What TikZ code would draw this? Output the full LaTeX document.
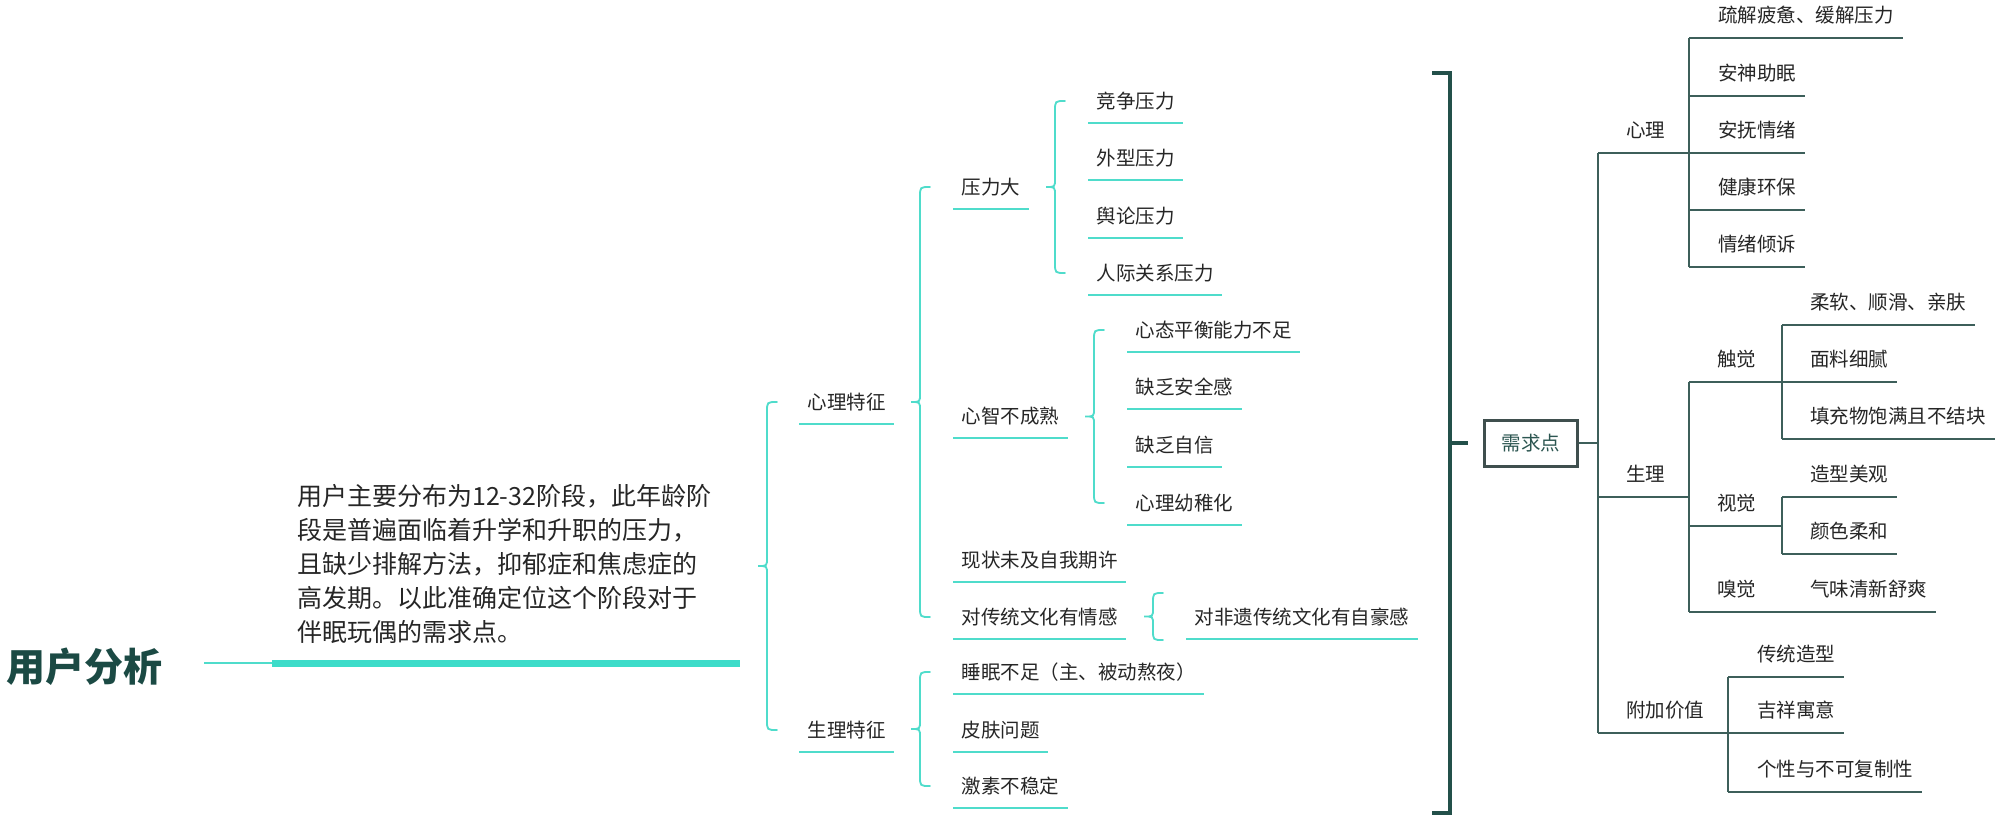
\documentclass[tikz,border=0pt]{standalone}
\usepackage{fontspec}
\setmainfont{Noto Sans CJK SC}
\usetikzlibrary{calc}
\definecolor{tl}{HTML}{4FDCCB}
\definecolor{tlk}{HTML}{3DDCC9}
\definecolor{dk}{HTML}{3D5F5A}
\definecolor{brk}{HTML}{23504A}
\definecolor{ttl}{HTML}{1B4A44}
\definecolor{txt}{HTML}{262626}
\definecolor{boxc}{HTML}{3F4F4E}
\definecolor{boxt}{HTML}{2C5651}
\tikzset{
  lt/.style={anchor=west, inner xsep=8.5pt, inner ysep=0pt, text=txt, font=\fontsize{19.5}{24}\selectfont},
  rt/.style={anchor=west, inner xsep=9pt, inner ysep=0pt, text=txt, font=\fontsize{19.5}{24}\selectfont},
  tline/.style={draw=tl, line width=1.8pt},
  brc/.style={draw=tl, line width=1.8pt, line cap=round},
  dline/.style={draw=dk, line width=2pt},
  brkl/.style={draw=brk, line width=3.5pt, line join=miter},
}
\newcommand\myul[1]{\draw[tline] ([yshift=-22pt]#1.west) -- ([yshift=-22pt]#1.east);}
\newcommand\mybrace[3]{%
  \draw[brc] let \p1=(#2), \p3=(#3), \p2=($(#2)!0.5!(#3)$) in
   (#1pt+10pt,\y1) .. controls (#1pt,\y1) .. (#1pt,\y1-10pt)
   -- (#1pt,\y2+8pt) .. controls (#1pt,\y2) .. (#1pt-9pt,\y2)
   .. controls (#1pt,\y2) .. (#1pt,\y2-8pt)
   -- (#1pt,\y3+10pt) .. controls (#1pt,\y3) .. (#1pt+10pt,\y3);}
\newcommand\uline[2]{\draw[dline] let \p1=(#2.east) in (#1pt,\y1-23pt) -- (\x1,\y1-23pt);}
\newcommand\pline[3]{\draw[dline] let \p1=(#1) in (#2pt,\y1-23pt) -- (#3pt,\y1-23pt);}
\newcommand\vbar[3]{\draw[dline] let \p1=(#2), \p2=(#3) in (#1pt,\y1-23pt) -- (#1pt,\y2-23pt);}
\begin{document}
\begin{tikzpicture}[x=1pt, y=-1pt]
\fill[white] (0,0) rectangle (2000,821);
\useasboundingbox (0,0) rectangle (2000,821);

% title and summary
\node[anchor=west, inner sep=0pt, text=ttl, font=\fontsize{39}{44}\selectfont\bfseries] (title) at (6,667) {用户分析};
\node[anchor=west, inner sep=0pt, text=txt, align=left, font=\fontsize{25}{34}\selectfont] (para) at (297,564)
 {用户主要分布为12-32阶段，此年龄阶\\段是普遍面临着升学和升职的压力，\\且缺少排解方法，抑郁症和焦虑症的\\高发期。以此准确定位这个阶段对于\\伴眠玩偶的需求点。};
\coordinate (la) at (204,663);
\coordinate (lb) at (272,663);
\coordinate (lc) at (740,663);
\draw[tline] (la) -- (lb);
\draw[draw=tlk, line width=7pt] (lb) -- (lc);

% left tree
\node[lt] (xlt) at (799,402) {心理特征};
\node[lt] (sltz) at (799,730) {生理特征};
\node[lt] (yld) at (953,187) {压力大};
\node[lt] (xzb) at (953,416) {心智不成熟};
\node[lt] (xzw) at (953,560) {现状未及自我期许};
\node[lt] (dct) at (953,617) {对传统文化有情感};
\node[lt] (smbz) at (953,672) {睡眠不足（主、被动熬夜）};
\node[lt] (pfwt) at (953,730) {皮肤问题};
\node[lt] (jsbw) at (953,786) {激素不稳定};
\node[lt] (jz) at (1088,101) {竞争压力};
\node[lt] (wx) at (1088,158) {外型压力};
\node[lt] (yl) at (1088,216) {舆论压力};
\node[lt] (rj) at (1088,273) {人际关系压力};
\node[lt] (xt) at (1127,330) {心态平衡能力不足};
\node[lt] (aq) at (1127,387) {缺乏安全感};
\node[lt] (zx) at (1127,445) {缺乏自信};
\node[lt] (yz) at (1127,503) {心理幼稚化};
\node[lt] (fy) at (1186,617) {对非遗传统文化有自豪感};
\foreach \q in {xlt,sltz,yld,xzb,xzw,dct,smbz,pfwt,jsbw,jz,wx,yl,rj,xt,aq,zx,yz,fy} {\myul{\q}}

\mybrace{767}{xlt}{sltz}
\mybrace{920}{yld}{dct}
\mybrace{920}{smbz}{jsbw}
\mybrace{1055}{jz}{rj}
\mybrace{1094}{xt}{yz}
\coordinate (fya) at ([yshift=24pt]fy.west);
\coordinate (fyb) at ([yshift=-23pt]fy.west);
\mybrace{1153}{fya}{fyb}

% bracket and need box
\coordinate (bt) at (1432,73);
\coordinate (bb) at (1432,813);
\draw[brkl] (bt) -| ($(bb)+(18,0)$) -- (bb);
\node[draw=boxc, line width=3pt, minimum width=93pt, minimum height=46pt, inner sep=0pt, text=boxt, font=\fontsize{19.5}{24}\selectfont] (need) at (1531,443) {需求点};
\draw[brkl] let \p1=(need.west) in (1450pt,\y1) -- (1468pt,\y1);

% right tree
\node[rt] (r1) at (1617,130) {心理};
\node[rt] (r2) at (1617,474) {生理};
\node[rt] (r3) at (1617,710) {附加价值};
\node[rt] (a1) at (1709,15) {疏解疲惫、缓解压力};
\node[rt] (a2) at (1709,73) {安神助眠};
\node[rt] (a3) at (1709,130) {安抚情绪};
\node[rt] (a4) at (1709,187) {健康环保};
\node[rt] (a5) at (1709,244) {情绪倾诉};
\node[rt] (b1) at (1708,359) {触觉};
\node[rt] (b2) at (1708,503) {视觉};
\node[rt] (b3) at (1708,589) {嗅觉};
\node[rt] (c1) at (1801,302) {柔软、顺滑、亲肤};
\node[rt] (c2) at (1801,359) {面料细腻};
\node[rt] (c3) at (1801,416) {填充物饱满且不结块};
\node[rt] (d1) at (1801,474) {造型美观};
\node[rt] (d2) at (1801,531) {颜色柔和};
\node[rt] (e1) at (1801,589) {气味清新舒爽};
\node[rt] (f1) at (1748,654) {传统造型};
\node[rt] (f2) at (1748,710) {吉祥寓意};
\node[rt] (f3) at (1748,769) {个性与不可复制性};

\draw[dline] let \p1=(need.east) in (\p1) -- (1598pt,\y1);
\vbar{1598}{r1}{r3}
\pline{r1}{1598}{1689}
\vbar{1689}{a1}{a5}
\foreach \q in {a1,a2,a3,a4,a5} {\uline{1689}{\q}}
\pline{r2}{1598}{1689}
\vbar{1689}{b1}{b3}
\pline{b1}{1689}{1782}
\vbar{1782}{c1}{c3}
\foreach \q in {c1,c2,c3} {\uline{1782}{\q}}
\pline{b2}{1689}{1782}
\vbar{1782}{d1}{d2}
\foreach \q in {d1,d2} {\uline{1782}{\q}}
\uline{1689}{e1}
\pline{r3}{1598}{1728}
\vbar{1728}{f1}{f3}
\foreach \q in {f1,f2,f3} {\uline{1728}{\q}}
\end{tikzpicture}
\end{document}
